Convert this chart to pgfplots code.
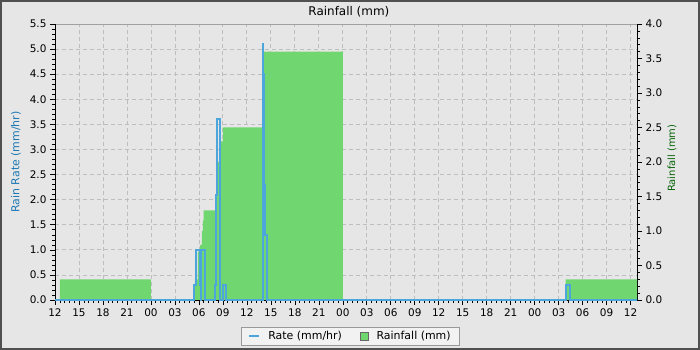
\documentclass[border=0pt]{standalone}
\usepackage{fontspec}
\setmainfont{DejaVu Sans}
\setsansfont{DejaVu Sans}
\usepackage{pgfplots}
\pgfplotsset{compat=1.18}
\definecolor{bgc}{RGB}{230,230,230}
\definecolor{framec}{RGB}{80,80,80}
\definecolor{gridc}{RGB}{190,190,190}
\definecolor{raingreen}{RGB}{112,214,112}
\definecolor{rateblue}{RGB}{76,166,220}
\definecolor{ratelabel}{RGB}{30,120,180}
\definecolor{rainlabel}{RGB}{10,100,10}
\definecolor{legfill}{RGB}{242,242,242}
\newcommand{\tickfont}{\fontsize{10.5}{12}\selectfont}
\begin{document}
\begin{tikzpicture}
\useasboundingbox (0,0) rectangle (700bp,350bp);
\fill[bgc] (0,0) rectangle (700bp,350bp);
\draw[framec, line width=2bp] (1bp,1bp) rectangle (699bp,349bp);
\pgfplotsset{
  base/.style={
    at={(55bp,50bp)}, anchor=south west, scale only axis,
    width=582bp, height=276bp,
    xmin=12, xmax=84.8,
    clip=false,
    tick align=outside, major tick length=5bp, minor tick length=3bp,
    every tick/.style={black, line width=0.6bp},
    every minor tick/.style={black, line width=0.5bp},
    tick label style={font=\tickfont},
  }
}
% grid axis
\begin{axis}[base, ymin=0, ymax=5.5,
  xtick={15,18,...,84}, ytick={0.5,1,...,5.5},
  xticklabels={}, yticklabels={},
  grid=major, major grid style={gridc, dash pattern=on 4bp off 3bp, line width=0.8bp},
  major tick length=0bp,
  axis line style={draw=gridc!85!black, line width=0.8bp},
]
\end{axis}
% rainfall axis (right)
\begin{axis}[base, ymin=0, ymax=4,
  axis y line*=right, axis x line=none,
  ytick={0,0.5,...,4}, minor y tick num=4,
  yticklabel style={/pgf/number format/.cd, fixed, fixed zerofill, precision=1, assume math mode=true},
  ylabel={Rainfall (mm)},
  every axis y label/.style={at={(axis description cs:1.060,0.514)}, anchor=center, rotate=90, font=\fontsize{10}{12}\selectfont, text=rainlabel},
]
\addplot[fill=raingreen, draw=none] coordinates {
(12.625,0)(12.625,0.3)(24,0.3)(24,0)
(29.375,0)(29.375,0.2)(29.5,0.2)(29.5,0.3)(29.875,0.3)(29.875,0.7)(30.125,0.7)(30.125,0.8)
(30.375,0.8)(30.375,1.0)(30.5,1.0)(30.5,1.15)(30.6,1.15)(30.6,1.3)(32.125,1.3)(32.125,1.5)
(32.375,1.5)(32.375,2.0)(32.75,2.0)(32.75,2.3)(33.0,2.3)(33.0,2.5)(38.06,2.5)(38.06,3.55)
(38.15,3.55)(38.15,3.6)(48,3.6)(48,0)
(75.875,0)(75.875,0.3)(84.8,0.3)(84.8,0)
} \closedcycle;
\end{axis}
% rate axis (left)
\begin{axis}[base, ymin=0, ymax=5.5,
  axis y line*=left, axis x line*=bottom,
  xtick={12,15,...,84},
  xticklabels={12,15,18,21,00,03,06,09,12,15,18,21,00,03,06,09,12,15,18,21,00,03,06,09,12},
  minor x tick num=4,
  ytick={0,0.5,...,5.5}, minor y tick num=4,
  yticklabel style={/pgf/number format/.cd, fixed, fixed zerofill, precision=1, assume math mode=true},
  ylabel={Rain Rate (mm/hr)},
  every axis y label/.style={at={(axis description cs:-0.067,0.5)}, anchor=center, rotate=90, font=\fontsize{11}{13}\selectfont, text=ratelabel},
  title={Rainfall (mm)},
  every axis title/.style={at={(axis description cs:0.505,1.043)}, anchor=center, font=\fontsize{12}{14}\selectfont},
  legend columns=2,
  legend style={at={(axis description cs:0.5077,-0.132)}, anchor=center, draw=gray!80, fill=legfill,
    font=\fontsize{11}{13}\selectfont, line width=0.8bp, inner xsep=7bp, inner ysep=2bp,
    /tikz/every odd column/.append style={column sep=6bp},
    /tikz/every even column/.append style={column sep=16bp}},
]
\addlegendimage{legend image code/.code={\draw[rateblue, line width=2bp] (0bp,0bp) -- (10bp,0bp);}}
\addlegendentry{Rate (mm/hr)}
\addlegendimage{legend image code/.code={\draw[fill=raingreen, draw=black!60, line width=0.6bp] (1bp,-4bp) rectangle (9bp,4bp);}}
\addlegendentry{Rainfall (mm)}
\addplot[rateblue, line width=2bp, forget plot] coordinates {
(12,0)(29.375,0)(29.375,0.3)(29.6,0.3)(29.6,1.0)(30.1,1.0)(30.1,0.3)(30.2,0.3)(30.2,0)
(30.3,0)(30.3,1.0)(30.75,1.0)(30.75,0)
(32.05,0)(32.05,0.3)(32.15,0.3)(32.15,2.1)(32.25,2.1)(32.25,3.6)(32.6,3.6)(32.6,2.0)(32.7,2.0)(32.7,0)
(33.0,0)(33.0,0.3)(33.4,0.3)(33.4,0)
(38.0,0)(38.0,5.1)(38.05,5.1)(38.05,4.5)(38.2,4.5)(38.2,2.3)(38.25,2.3)(38.25,1.8)(38.3,1.8)(38.3,1.3)(38.55,1.3)(38.55,0)
(75.9,0)(75.9,0.3)(76.4,0.3)(76.4,0)(84.8,0)
};
\end{axis}
\end{tikzpicture}
\end{document}
